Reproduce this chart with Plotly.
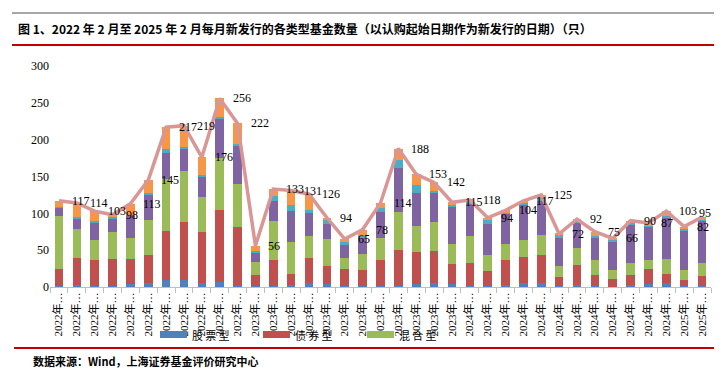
import plotly.graph_objects as go

# ---------------- data ----------------
months = [
    "2022年2月", "2022年3月", "2022年4月", "2022年5月", "2022年6月", "2022年7月",
    "2022年8月", "2022年9月", "2022年10月", "2022年11月", "2022年12月",
    "2023年1月", "2023年2月", "2023年3月", "2023年4月", "2023年5月", "2023年6月",
    "2023年7月", "2023年8月", "2023年9月", "2023年10月", "2023年11月", "2023年12月",
    "2024年1月", "2024年2月", "2024年3月", "2024年4月", "2024年5月", "2024年6月",
    "2024年7月", "2024年8月", "2024年9月", "2024年10月", "2024年11月", "2024年12月",
    "2025年1月", "2025年2月",
]
tick_labels = [m[:5] + "…" for m in months]

stock = [2, 3, 1, 1, 4, 6, 9, 9, 5, 7, 2,
         2, 2, 3, 6, 4, 2, 1, 2, 2, 4, 6, 4,
         1, 2, 3, 5, 5, 1, 3, 1, 0, 3, 4, 5,
         1, 1]
bond = [23, 36, 36, 37, 34, 37, 67, 79, 69, 98, 80,
        14, 35, 14, 33, 24, 23, 22, 34, 48, 44, 43, 27,
        32, 20, 34, 36, 38, 12, 27, 15, 11, 13, 21, 13,
        9, 14]
mixed = [71, 40, 27, 37, 29, 48, 70, 70, 48, 70, 58,
         18, 52, 44, 30, 37, 14, 22, 30, 52, 35, 39, 27,
         36, 22, 21, 23, 27, 15, 23, 21, 12, 17, 11, 20,
         13, 17]
index_f = [12, 14, 23, 17, 30, 34, 36, 29, 28, 53, 51,
           12, 28, 42, 32, 21, 18, 21, 36, 60, 44, 39, 50,
           45, 42, 42, 48, 47, 38, 35, 30, 39, 52, 46, 57,
           54, 58]
qdii = [1, 2, 3, 3, 1, 2, 6, 3, 2, 3, 3,
        3, 6, 8, 4, 5, 4, 3, 5, 11, 11, 4, 3,
        2, 6, 1, 2, 5, 5, 1, 2, 2, 2, 1, 2,
        2, 1]
fof = [8, 19, 13, 3, 15, 18, 29, 29, 24, 25, 28,
       7, 10, 20, 21, 3, 4, 9, 7, 15, 15, 11, 4,
       2, 2, 3, 3, 3, 1, 3, 6, 2, 3, 4, 6,
       3, 4]
total_labels = [117, 114, 103, 98, 113, 145, 217, 219, 176, 256, 222,
                56, 133, 131, 126, 94, 65, 78, 114, 188, 153, 142, 115,
                118, 94, 104, 117, 125, 72, 92, 75, 66, 90, 87, 103,
                82, 95]

series = [
    ("股票型", stock, "#4F81BD"),
    ("债券型", bond, "#C0504D"),
    ("混合型", mixed, "#9BBB59"),
    ("指数型", index_f, "#8064A2"),
    ("QDII", qdii, "#4BACC6"),
    ("FOF", fof, "#F79646"),
]
legend_items = ["股票型", "债券型", "混合型"]

# ---------------- layout helpers (page pixel -> paper) ----------------
PAGE_W, PAGE_H = 722, 376
OFF = 8  # default body margin of the html page
L, R, T, B = 50, 711, 66, 287   # plot area in page pixels


def px(x):
    return (x - L) / (R - L)


def py(y):
    return (B - y) / (B - T)


SERIF = "Times New Roman, Liberation Serif, Noto Sans CJK SC, serif"
CJK = "Noto Sans CJK SC, sans-serif"

fig = go.Figure()
for name, vals, color in series:
    fig.add_trace(go.Bar(
        x=months, y=vals, name=name, marker_color=color,
        marker_line_width=0, showlegend=False,
    ))

fig.add_trace(go.Scatter(
    x=months, y=total_labels, mode="lines", name="合计",
    line=dict(color="#D99694", width=3.5), showlegend=False,
))

annotations = []
n = len(months)
for i, (m, v) in enumerate(zip(months, total_labels)):
    last = i == n - 1
    annotations.append(dict(x=m, y=v, xref="x", yref="y", text=str(v),
                            showarrow=False,
                            xanchor="center" if last else "left",
                            xshift=3 if last else 11,
                            yshift=4 if last else 0,
                            font=dict(family=SERIF, size=12, color="#000")))

# title and source
annotations.append(dict(
    x=px(16), y=py(29), xref="paper", yref="paper", xanchor="left", yanchor="middle",
    showarrow=False,
    text="<b>图 1、2022 年 2 月至 2025 年 2 月每月新发行的各类型基金数量（以认购起始日期作为新发行的日期）（只）</b>",
    font=dict(family=CJK, size=12, color="#000"),
))
annotations.append(dict(
    x=px(31), y=py(361), xref="paper", yref="paper", xanchor="left", yanchor="middle",
    showarrow=False, text="<b>数据来源：Wind，上海证券基金评价研究中心</b>",
    font=dict(family=CJK, size=11, color="#000"),
))

shapes = [
    dict(type="line", xref="paper", yref="paper", x0=px(12), x1=px(722), y0=py(13), y1=py(13),
         line=dict(color="#A6A6A6", width=2)),
    dict(type="line", xref="paper", yref="paper", x0=px(12), x1=px(722), y0=py(45), y1=py(45),
         line=dict(color="#C00000", width=2)),
    dict(type="line", xref="paper", yref="paper", x0=px(14), x1=px(722), y0=py(348), y1=py(348),
         line=dict(color="#C00000", width=2)),
]

# manual legend
leg_x = [160, 263, 367]
colors = {name: c for name, _, c in series}
for lx, name in zip(leg_x, legend_items):
    shapes.append(dict(type="rect", xref="paper", yref="paper",
                       x0=px(lx), x1=px(lx + 27), y0=py(338), y1=py(331),
                       fillcolor=colors[name], line=dict(width=0)))
    annotations.append(dict(x=px(lx + 30), y=py(335), xref="paper", yref="paper",
                            xanchor="left", yanchor="middle", showarrow=False,
                            text="\u2009".join(name),
                            font=dict(family=CJK, size=11, color="#000")))

fig.update_layout(
    width=PAGE_W - OFF, height=PAGE_H - OFF,
    margin=dict(l=L - OFF, r=PAGE_W - R, t=T - OFF, b=PAGE_H - B),
    barmode="stack", bargap=0.52,
    paper_bgcolor="white", plot_bgcolor="white",
    showlegend=False,
    annotations=annotations, shapes=shapes,
    xaxis=dict(
        type="category", tickmode="array", tickvals=months, ticktext=tick_labels,
        tickangle=-90, ticks="outside", tickson="boundaries", ticklen=5,
        tickcolor="#BFBFBF", showline=True, linecolor="#BFBFBF", linewidth=1,
        showgrid=False, range=[-0.5, n - 0.5],
        tickfont=dict(family=SERIF, size=11, color="#000"),
    ),
    yaxis=dict(
        range=[0, 300], dtick=50, showgrid=False, showline=False, zeroline=False,
        ticks="", tickfont=dict(family=SERIF, size=12, color="#000"),
    ),
)

fig.write_html("out.html")
